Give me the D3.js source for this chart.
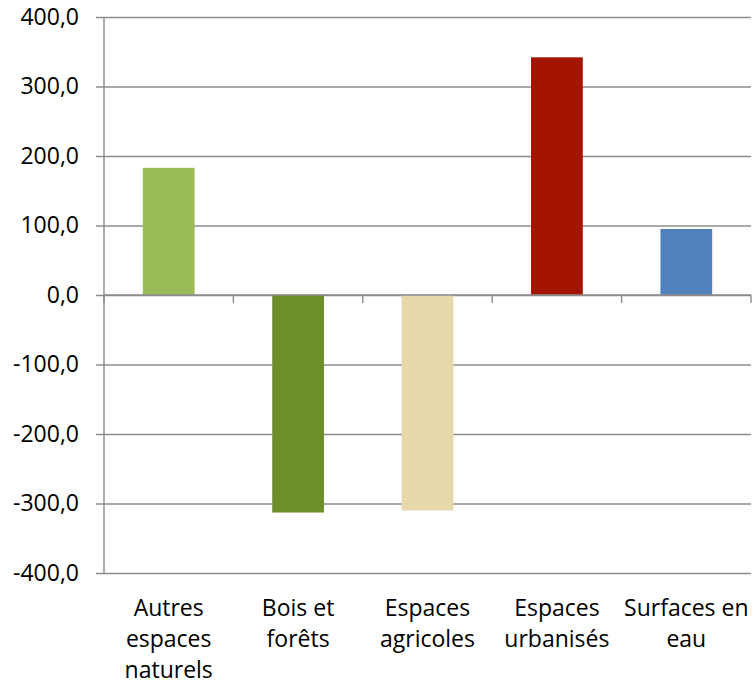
<!DOCTYPE html>
<html>
<head>
<meta charset="utf-8">
<script src="https://cdn.jsdelivr.net/npm/d3@7"></script>
<style>
  body { margin: 0; background: #fff; }
  text { font-family: "Open Sans", sans-serif; fill: #000; }
</style>
</head>
<body>
<div id="chart"></div>
<script>
const categories = ["Autres espaces naturels", "Bois et forêts", "Espaces agricoles", "Espaces urbanisés", "Surfaces en eau"];
const labelLines = [["Autres", "espaces", "naturels"], ["Bois et", "forêts"], ["Espaces", "agricoles"], ["Espaces", "urbanisés"], ["Surfaces en", "eau"]];
const values = [183, -313, -310, 342, 95];
const colors = ["#9BBB59", "#6E8E29", "#E7D8AB", "#A31500", "#4F81BD"];
const yTicks = [-400, -300, -200, -100, 0, 100, 200, 300, 400];

const W = 753, H = 686;
const margin = { top: 17, right: 2, bottom: 113, left: 104 };
const width = W - margin.left - margin.right;
const height = H - margin.top - margin.bottom;

const svg = d3.select("#chart")
  .append("svg")
  .attr("width", W)
  .attr("height", H)
  .append("g")
  .attr("transform", `translate(${margin.left},${margin.top})`);

const x = d3.scaleBand()
  .domain(categories)
  .range([0, width])
  .paddingInner(0.6)
  .paddingOuter(0.3);

const y = d3.scaleLinear()
  .domain([-400, 400])
  .range([height, 0]);

const grid = "#8c8c8c";

// gridlines, sticking out 8px left of the axis like Excel's outside ticks
svg.append("g")
  .call(d3.axisLeft(y).tickValues(yTicks).tickSize(0).tickFormat(""))
  .call(g => g.select(".domain").remove())
  .call(g => g.selectAll(".tick line")
    .attr("x1", -8).attr("x2", width)
    .attr("stroke", grid).attr("stroke-width", 1.4));

// y labels
svg.append("g")
  .call(d3.axisLeft(y).tickValues(yTicks).tickSize(0).tickPadding(25)
    .tickFormat(d => d3.format(".1f")(d).replace(".", ",").replace("−", "-")))
  .call(g => g.select(".domain").remove())
  .call(g => g.selectAll("text").style("font-size", "23px").attr("fill", "#000"));

// bars
svg.selectAll(".bar")
  .data(values)
  .enter()
  .append("rect")
  .attr("class", "bar")
  .attr("x", (d, i) => x(categories[i]))
  .attr("y", d => y(Math.max(0, d)))
  .attr("width", x.bandwidth())
  .attr("height", d => Math.abs(y(d) - y(0)))
  .attr("fill", (d, i) => colors[i]);

// y axis line
svg.append("line")
  .attr("x1", 0).attr("x2", 0)
  .attr("y1", 0).attr("y2", height)
  .attr("stroke", grid).attr("stroke-width", 1.4);

// x axis at zero with category boundary ticks
const step = x.step();
const bounds = d3.range(categories.length + 1).map(i => i * step);
svg.append("line")
  .attr("x1", 0).attr("x2", width)
  .attr("y1", y(0)).attr("y2", y(0))
  .attr("stroke", grid).attr("stroke-width", 1.4);
svg.selectAll(".xtick")
  .data(bounds)
  .enter()
  .append("line")
  .attr("class", "xtick")
  .attr("x1", d => d).attr("x2", d => d)
  .attr("y1", y(0)).attr("y2", y(0) + 8)
  .attr("stroke", grid).attr("stroke-width", 1.4);

// category labels
const labels = svg.selectAll(".xlabel")
  .data(labelLines)
  .enter()
  .append("text")
  .attr("class", "xlabel")
  .attr("text-anchor", "middle")
  .attr("x", (d, i) => x(categories[i]) + x.bandwidth() / 2)
  .attr("y", height + 43)
  .style("font-size", "23px");

labels.selectAll("tspan")
  .data(d => d)
  .enter()
  .append("tspan")
  .attr("x", function() { return this.parentNode.getAttribute("x"); })
  .attr("dy", (d, i) => i === 0 ? 0 : 31)
  .text(d => d);
</script>
</body>
</html>
